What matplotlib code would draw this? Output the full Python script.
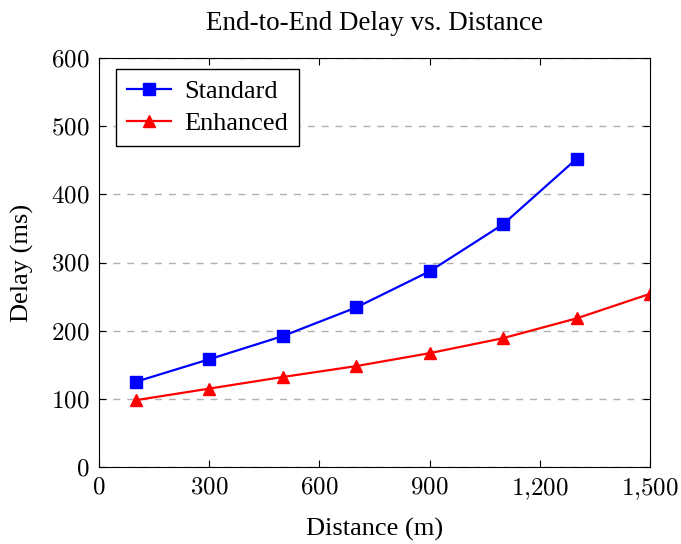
import matplotlib.pyplot as plt
import numpy as np

plt.rcParams['font.family'] = ['Liberation Serif', 'DejaVu Serif']
plt.rcParams['mathtext.fontset'] = 'cm'

# Datos
distancia_std = [100, 300, 500, 700, 900, 1100, 1300]
delay_std = [125, 158, 192, 234, 287, 356, 452]
distancia_enh = [100, 300, 500, 700, 900, 1100, 1300, 1500]
delay_enh = [98, 115, 132, 148, 167, 189, 218, 254]
xticks = [0, 300, 600, 900, 1200, 1500]
yticks = [0, 100, 200, 300, 400, 500, 600]

fig = plt.figure(figsize=(6.81, 5.44), dpi=100)
ax = fig.add_axes([99/681, 1 - 467/544, 551/681, 409/544])

ax.plot(distancia_std, delay_std, color='blue', marker='s', markersize=9,
        linewidth=1.6, label='Standard')
ax.plot(distancia_enh, delay_enh, color='red', marker='^', markersize=9,
        linewidth=1.6, label='Enhanced')

ax.set_xlim(0, 1500)
ax.set_ylim(0, 600)
ax.set_xticks(xticks)
ax.set_xticklabels(["$" + f"{t:,}".replace(",", "{,}") + "$" for t in xticks])
ax.set_yticks(yticks)
ax.set_yticklabels([f"${t}$" for t in yticks])
ax.tick_params(direction='in', top=True, right=True, labelsize=18, length=5, pad=7)
ax.yaxis.grid(True, linestyle=(0, (5, 5)), color='#b0b0b0', linewidth=1)
ax.set_axisbelow(True)

ax.set_xlabel("Distance (m)", fontsize=19, labelpad=11)
ax.set_ylabel("Delay (ms)", fontsize=19, labelpad=12)
ax.set_title("End-to-End Delay vs. Distance", fontsize=19.5, pad=20)

leg = ax.legend(loc='upper left', bbox_to_anchor=(17/551, 1 - 11/409),
                borderaxespad=0, fontsize=19, fancybox=False, framealpha=1,
                edgecolor='black', handlelength=1.7, borderpad=0.4,
                labelspacing=0.33, handletextpad=0.5)
leg.get_frame().set_linewidth(1)

plt.savefig("out.png", dpi=100)
